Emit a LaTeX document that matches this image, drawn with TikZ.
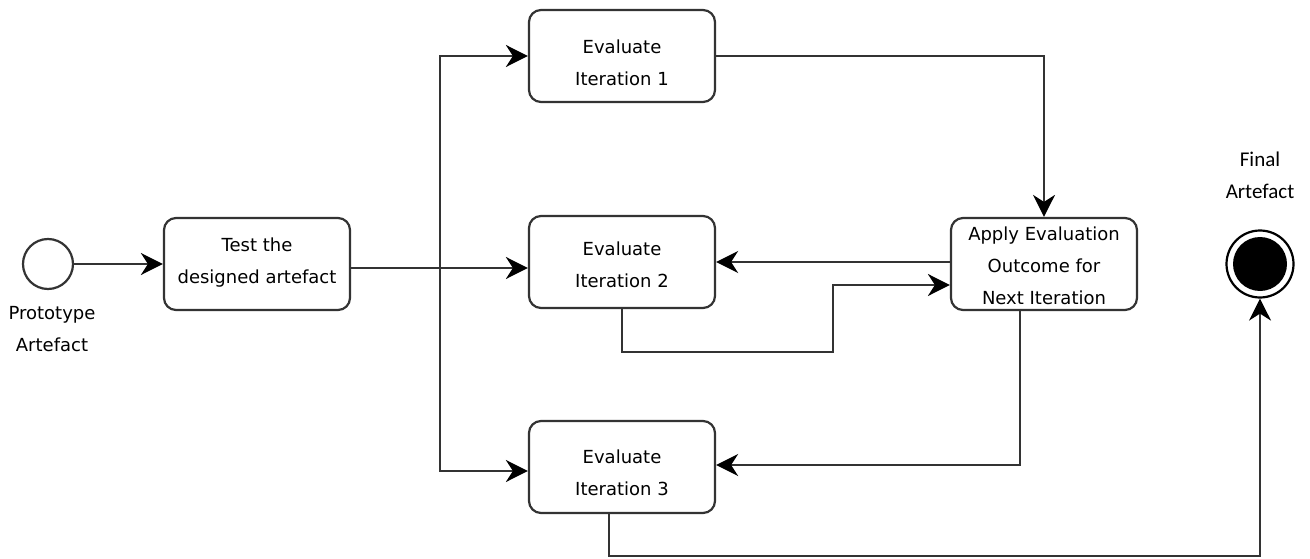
\documentclass[tikz,border=0pt]{standalone}
\usepackage{fontspec}
\setmainfont{DejaVu Sans}
\newfontfamily\labelfont{Carlito}
\usetikzlibrary{arrows.meta}
\definecolor{linegray}{HTML}{333333}
\begin{document}
\begin{tikzpicture}[x=1pt,y=-1pt,
  every node/.style={font=\fontsize{18}{32}\selectfont, text=black},
  task/.style={draw=linegray, line width=2.2pt, rounded corners=12pt, fill=white,
    minimum width=186pt, minimum height=92pt, inner sep=0pt},
  tasktext/.style={align=center, inner sep=0pt},
  flow/.style={draw=linegray, line width=2.2pt,
    -{Stealth[length=22pt,width=22pt,inset=7pt,color=black]}},
  caption/.style={align=center, inner sep=0pt}]
\useasboundingbox (0,0) rectangle (1310,559);

% start and end events
\node[circle, draw=linegray, line width=2.2pt, minimum size=50pt, inner sep=0pt] (start) at (48,264) {};
\node[caption, anchor=north] (startlbl) at (52,306) {Prototype\\Artefact};
\node[circle, draw=black, line width=2.2pt, minimum size=67pt, inner sep=0pt] (final) at (1260,264) {};
\node[circle, fill=black, minimum size=54pt, inner sep=0pt] (finalcore) at (1260,264) {};
\node[caption, font=\labelfont\fontsize{21}{32}\selectfont, anchor=north] (finallbl) at (1260,152) {Final\\Artefact};

% activities: frames
\node[task] (test) at (257,264) {};
\node[task] (e1) at (622,56) {};
\node[task] (e2) at (622,262) {};
\node[task] (e3) at (622,467) {};
\node[task] (apply) at (1044,264) {};

% activities: texts
\node[tasktext] (testtxt) at (257,263) {Test the\\designed artefact};
\node[tasktext] (e1txt) at (622,63) {Evaluate\\Iteration 1};
\node[tasktext] (e2txt) at (622,265) {Evaluate\\Iteration 2};
\node[tasktext] (e3txt) at (622,473) {Evaluate\\Iteration 3};
\node[tasktext] (applytxt) at (1044,266) {Apply Evaluation\\Outcome for\\Next Iteration};

% branching point on the test output and routing corners
\coordinate (split) at (440,268);
\coordinate (loopA) at (833,352);
\coordinate (exitB) at (609,556);

\draw[flow] (start) -- (test.west |- start);
\draw[flow] (test.east |- split) -- (e2.west |- split);
\draw[flow] (split) |- (e1.west);
\draw[flow] (split) |- ([yshift=-4pt]e3.west);
\draw[flow] (e1.east) -| (apply.north);
\draw[flow] (apply.west |- e2) -- (e2.east);
\draw[flow] (e2.south) |- (loopA) |- ([yshift=-21pt]apply.west);
\draw[flow] ([xshift=-24pt]apply.south) |- ([yshift=2pt]e3.east);
\draw[flow] (e3.south -| exitB) |- (exitB -| final) -- (final.south);
\end{tikzpicture}
\end{document}
